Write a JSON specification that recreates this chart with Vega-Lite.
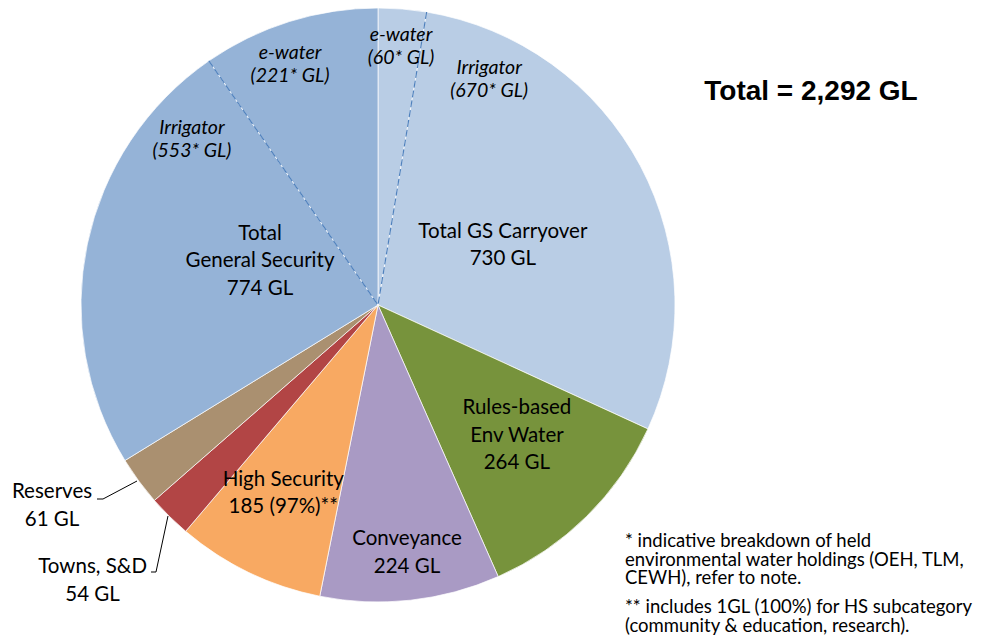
{
  "$schema": "https://vega.github.io/schema/vega-lite/v6.json",
  "width": 1000,
  "height": 637,
  "autosize": {"type": "fit", "contains": "padding"},
  "padding": 0,
  "background": "white",
  "config": {"view": {"stroke": null}},
  "datasets": {
    "slices": [
      {"part": "GS Carryover e-water", "group": "Total GS Carryover", "gl": 60, "ord": 1},
      {"part": "GS Carryover Irrigator", "group": "Total GS Carryover", "gl": 670, "ord": 2},
      {"part": "Rules-based Env Water", "group": "Rules-based Env Water", "gl": 264, "ord": 3},
      {"part": "Conveyance", "group": "Conveyance", "gl": 224, "ord": 4},
      {"part": "High Security", "group": "High Security", "gl": 185, "ord": 5},
      {"part": "Towns, S&D", "group": "Towns, S&D", "gl": 54, "ord": 6},
      {"part": "Reserves", "group": "Reserves", "gl": 61, "ord": 7},
      {"part": "General Security Irrigator", "group": "Total General Security", "gl": 553, "ord": 8},
      {"part": "General Security e-water", "group": "Total General Security", "gl": 221, "ord": 9}
    ],
    "splits": [
      {"split": "GS Carryover e-water | Irrigator", "at": 60},
      {"split": "General Security Irrigator | e-water", "at": 2071}
    ],
    "labels": [
      {"label": "Total GS Carryover\n730 GL", "at": 380, "r": 0.487},
      {"label": "Total\nGeneral Security\n774 GL", "at": 1917, "r": 0.464},
      {"label": "Rules-based\nEnv Water\n264 GL", "at": 806, "r": 0.5825},
      {"label": "Conveyance\n224 GL", "at": 1101, "r": 0.794},
      {"label": "High Security\n185 (97%)**", "at": 1327, "r": 0.67},
      {"label": "Reserves\n61 GL", "at": 1529, "r": 1.2654},
      {"label": "Towns, S&D\n54 GL", "at": 1448, "r": 1.3047}
    ],
    "sublabels": [
      {"label": "e-water\n(60* GL)", "at": 31, "r": 0.912},
      {"label": "Irrigator\n(670* GL)", "at": 160, "r": 0.881},
      {"label": "Irrigator\n(553* GL)", "at": 1996.5, "r": 0.865},
      {"label": "e-water\n(221* GL)", "at": 2169.5, "r": 0.899}
    ],
    "leaders": [
      {"id": "Reserves", "k": 1, "u": -0.9461, "v": -0.6532},
      {"id": "Reserves", "k": 2, "u": -0.9259, "v": -0.6532},
      {"id": "Reserves", "k": 3, "u": -0.8114, "v": -0.5926},
      {"id": "Towns", "k": 1, "u": -0.7643, "v": -0.899},
      {"id": "Towns", "k": 2, "u": -0.7475, "v": -0.899},
      {"id": "Towns", "k": 3, "u": -0.7071, "v": -0.7104}
    ],
    "notes": [
      {"kind": "title", "text": "Total = 2,292 GL"},
      {"kind": "note1", "text": "* indicative breakdown of held\nenvironmental water holdings (OEH, TLM,\nCEWH), refer to note."},
      {"kind": "note2", "text": "** includes 1GL (100%) for HS subcategory\n(community & education, research)."}
    ]
  },
  "layer": [
    {
      "data": {"name": "slices"},
      "mark": {"type": "arc", "outerRadius": 297, "stroke": "white", "strokeWidth": 0.7},
      "encoding": {
        "x": {"value": 378},
        "y": {"value": 305},
        "theta": {"field": "gl", "type": "quantitative", "stack": true, "scale": {"domain": [0, 2292]}},
        "order": {"field": "ord", "type": "quantitative"},
        "color": {
          "field": "group",
          "type": "nominal",
          "legend": null,
          "scale": {
            "domain": ["Total GS Carryover", "Rules-based Env Water", "Conveyance", "High Security", "Towns, S&D", "Reserves", "Total General Security"],
            "range": ["#b9cde5", "#77933c", "#a99ac4", "#f8a962", "#b24545", "#aa9070", "#95b3d7"]
          }
        }
      }
    },
    {
      "data": {"name": "splits"},
      "mark": {"type": "arc", "outerRadius": 297, "fillOpacity": 0, "stroke": "#4f81bd", "strokeWidth": 1.2, "strokeDash": [7, 2.9492]},
      "encoding": {
        "x": {"value": 378},
        "y": {"value": 305},
        "theta": {"field": "at", "type": "quantitative", "stack": null, "scale": {"domain": [0, 2292]}},
        "theta2": {"field": "at"}
      }
    },
    {
      "data": {"name": "labels"},
      "mark": {"type": "text", "font": "Lato", "fontSize": 20.5, "lineHeight": 27.5, "lineBreak": "\n", "align": "center", "baseline": "middle", "color": "black"},
      "encoding": {
        "x": {"value": 378},
        "y": {"value": 305},
        "theta": {"field": "at", "type": "quantitative", "stack": null, "scale": {"domain": [0, 2292]}},
        "radius": {"field": "r", "type": "quantitative", "scale": {"type": "linear", "domain": [0, 1], "range": [0, 297], "zero": true}},
        "text": {"field": "label", "type": "nominal"}
      }
    },
    {
      "data": {"name": "sublabels"},
      "mark": {"type": "text", "font": "Lato", "fontSize": 19.5, "fontStyle": "italic", "lineHeight": 23, "lineBreak": "\n", "align": "center", "baseline": "middle", "color": "black"},
      "encoding": {
        "x": {"value": 378},
        "y": {"value": 305},
        "theta": {"field": "at", "type": "quantitative", "stack": null, "scale": {"domain": [0, 2292]}},
        "radius": {"field": "r", "type": "quantitative", "scale": {"type": "linear", "domain": [0, 1], "range": [0, 297], "zero": true}},
        "text": {"field": "label", "type": "nominal"}
      }
    },
    {
      "data": {"name": "leaders"},
      "mark": {"type": "line", "color": "black", "strokeWidth": 1},
      "encoding": {
        "x": {"field": "u", "type": "quantitative", "axis": null, "scale": {"domain": [-1.27273, 2.09428], "nice": false, "zero": false}},
        "y": {"field": "v", "type": "quantitative", "axis": null, "scale": {"domain": [-1.11785, 1.02694], "nice": false, "zero": false}},
        "detail": {"field": "id", "type": "nominal"},
        "order": {"field": "k", "type": "quantitative"}
      }
    },
    {
      "data": {"name": "notes"},
      "transform": [{"filter": "datum.kind === 'title'"}],
      "mark": {"type": "text", "font": "Liberation Sans", "fontSize": 28, "fontWeight": "bold", "align": "center", "baseline": "middle", "color": "black", "x": 811, "y": 92},
      "encoding": {"text": {"field": "text", "type": "nominal"}}
    },
    {
      "data": {"name": "notes"},
      "transform": [{"filter": "datum.kind === 'note1'"}],
      "mark": {"type": "text", "font": "Lato", "fontSize": 18.5, "lineHeight": 18.5, "lineBreak": "\n", "align": "left", "baseline": "middle", "color": "black", "x": 625, "y": 541},
      "encoding": {"text": {"field": "text", "type": "nominal"}}
    },
    {
      "data": {"name": "notes"},
      "transform": [{"filter": "datum.kind === 'note2'"}],
      "mark": {"type": "text", "font": "Lato", "fontSize": 18.5, "lineHeight": 18.5, "lineBreak": "\n", "align": "left", "baseline": "middle", "color": "black", "x": 625, "y": 607},
      "encoding": {"text": {"field": "text", "type": "nominal"}}
    }
  ]
}
